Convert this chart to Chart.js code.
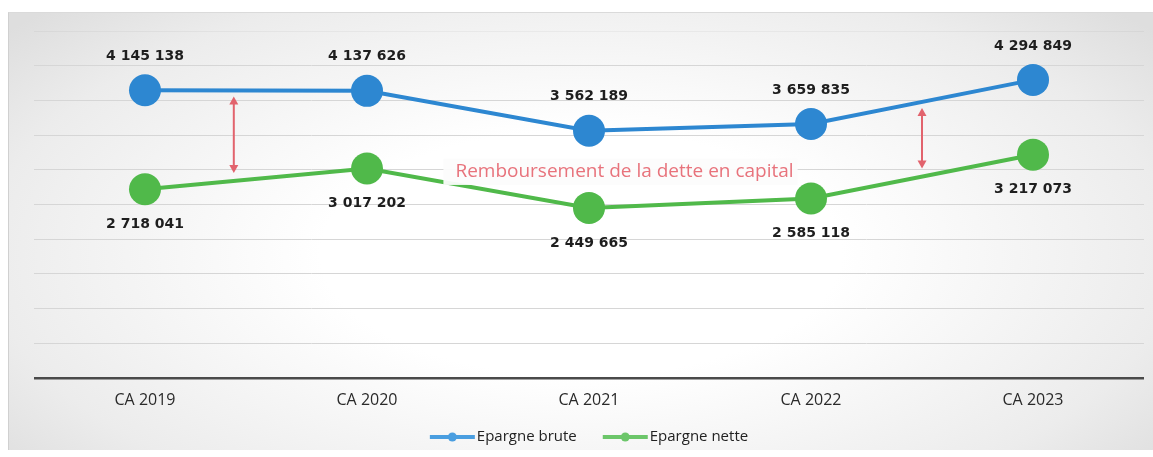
<!DOCTYPE html>
<html lang="fr">
<head>
    <meta charset="UTF-8">
    <title>Epargne brute et nette</title>
    <script src="https://cdn.jsdelivr.net/npm/chart.js"></script>
    <style>
        body {
            margin: 0;
            background: #ffffff;
            font-family: "Open Sans", sans-serif;
        }
        #frame {
            position: absolute;
            left: 8px;
            top: 12px;
            width: 1145px;
            height: 438px;
            background: radial-gradient(ellipse 65% 80% at 50% 55%, #ffffff 35%, #ececec 80%, #dedede 100%);
            border-left: 1px solid #d0d0d0;
            border-top: 1px solid #dadada;
            box-sizing: border-box;
        }
    </style>
</head>
<body>

<div id="frame">
    <canvas id="epargneChart"></canvas>
</div>

<script>
    const categories = ['CA 2019', 'CA 2020', 'CA 2021', 'CA 2022', 'CA 2023'];
    const epargneBrute = [4145138, 4137626, 3562189, 3659835, 4294849];
    const epargneNette = [2718041, 3017202, 2449665, 2585118, 3217073];
    const seriesNames = ['Epargne brute', 'Epargne nette'];
    const seriesColors = ['#2d87d1', '#50b94a'];
    const legendColors = ['#4a9ee0', '#6cc66a'];
    const yMin = 0;
    const yMax = 5000000;
    const yStep = 500000;
    const annotationText = 'Remboursement de la dette en capital';
    // where the red arrows sit, as fractional category index
    const arrowIndexes = [0.4, 3.5];

    const formatNumber = (v) => String(v).replace(/\B(?=(\d{3})+(?!\d))/g, ' ');

    const interp = (arr, idx) => {
        const i = Math.floor(idx);
        const t = idx - i;
        if (i >= arr.length - 1) return arr[arr.length - 1];
        return arr[i] + (arr[i + 1] - arr[i]) * t;
    };

    const drawArrowHead = (ctx, x, y, dir) => {
        ctx.beginPath();
        ctx.moveTo(x, y);
        ctx.lineTo(x - 4.5, y + dir * 8);
        ctx.lineTo(x + 4.5, y + dir * 8);
        ctx.closePath();
        ctx.fill();
    };

    const annotationsPlugin = {
        id: 'annotations',
        beforeDatasetsDraw(chart) {
            const ctx = chart.ctx;
            const x = chart.scales.x;
            const y = chart.scales.y;
            ctx.save();
            ctx.strokeStyle = '#e2636d';
            ctx.fillStyle = '#e2636d';
            ctx.lineWidth = 2;
            arrowIndexes.forEach(idx => {
                const px = x.getPixelForValue(idx);
                const top = y.getPixelForValue(interp(epargneBrute, idx)) + 6;
                const bottom = y.getPixelForValue(interp(epargneNette, idx)) - 8;
                ctx.beginPath();
                ctx.moveTo(px, top + 4);
                ctx.lineTo(px, bottom - 4);
                ctx.stroke();
                drawArrowHead(ctx, px, top, 1);
                drawArrowHead(ctx, px, bottom, -1);
            });
            ctx.restore();
        },
        afterDatasetsDraw(chart) {
            const ctx = chart.ctx;
            const x = chart.scales.x;
            const y = chart.scales.y;
            ctx.save();

            // text box over the green line
            const cx = x.getPixelForValue(2.16);
            const cy = y.getPixelForValue(2968000);
            ctx.font = '19px "Open Sans"';
            const w = ctx.measureText(annotationText).width;
            ctx.fillStyle = 'rgba(252,252,252,0.95)';
            ctx.fillRect(cx - w / 2 - 12, cy - 13, w + 16, 26);
            ctx.fillStyle = '#e8737c';
            ctx.textAlign = 'center';
            ctx.textBaseline = 'middle';
            ctx.fillText(annotationText, cx, cy);

            // data labels
            ctx.font = 'bold 14px "DejaVu Sans"';
            ctx.fillStyle = '#1e1e1e';
            chart.data.datasets.forEach((ds, di) => {
                const meta = chart.getDatasetMeta(di);
                meta.data.forEach((pt, i) => {
                    const off = di === 0 ? -34 : 35;
                    ctx.fillText(formatNumber(ds.data[i]), pt.x, pt.y + off);
                });
            });
            ctx.restore();
        },
        afterDraw(chart) {
            // legend: line marker with a dot, then the series name
            const ctx = chart.ctx;
            ctx.save();
            ctx.font = '15px "Open Sans"';
            ctx.textBaseline = 'middle';
            const markerW = 45, textGap = 2, itemGap = 26;
            const widths = chart.data.datasets.map(ds => markerW + textGap + ctx.measureText(ds.label).width);
            const total = widths.reduce((a, b) => a + b, 0) + itemGap * (widths.length - 1);
            let lx = (chart.chartArea.left + chart.chartArea.right) / 2 - total / 2;
            const ly = chart.height - 13;
            chart.data.datasets.forEach((ds, i) => {
                ctx.strokeStyle = legendColors[i];
                ctx.fillStyle = legendColors[i];
                ctx.lineWidth = 4;
                ctx.beginPath();
                ctx.moveTo(lx, ly);
                ctx.lineTo(lx + markerW, ly);
                ctx.stroke();
                ctx.beginPath();
                ctx.arc(lx + markerW / 2, ly, 4.5, 0, Math.PI * 2);
                ctx.fill();
                ctx.fillStyle = '#222222';
                ctx.fillText(ds.label, lx + markerW + textGap, ly);
                lx += widths[i] + itemGap;
            });
            ctx.restore();
        }
    };

    const ctx = document.getElementById('epargneChart').getContext('2d');

    new Chart(ctx, {
        type: 'line',
        data: {
            labels: categories,
            datasets: [
                {
                    label: seriesNames[0],
                    data: epargneBrute,
                    borderColor: seriesColors[0],
                    backgroundColor: seriesColors[0],
                    pointStyle: 'circle',
                    borderWidth: 4,
                    pointRadius: 16,
                    pointHoverRadius: 16,
                    pointBorderWidth: 0,
                    tension: 0
                },
                {
                    label: seriesNames[1],
                    data: epargneNette,
                    borderColor: seriesColors[1],
                    backgroundColor: seriesColors[1],
                    pointStyle: 'circle',
                    borderWidth: 4,
                    pointRadius: 16,
                    pointHoverRadius: 16,
                    pointBorderWidth: 0,
                    tension: 0
                }
            ]
        },
        options: {
            responsive: true,
            maintainAspectRatio: false,
            animation: false,
            layout: {
                autoPadding: false,
                padding: { left: 25, right: 9, top: 18, bottom: 27 }
            },
            scales: {
                x: {
                    offset: true,
                    grid: { display: false, drawTicks: false },
                    border: { display: false },
                    ticks: {
                        padding: 13,
                        color: '#2a2a2a',
                        font: { family: 'Open Sans', size: 16 }
                    }
                },
                y: {
                    min: yMin,
                    max: yMax,
                    grid: {
                        drawTicks: false,
                        color: (c) => c.tick.value === 0 ? '#4a4a4a' : (c.tick.value === yMax ? 'rgba(0,0,0,0.04)' : '#d6d6d6'),
                        lineWidth: (c) => c.tick.value === 0 ? 2.5 : 1
                    },
                    border: { display: false },
                    ticks: { display: false, stepSize: yStep }
                }
            },
            plugins: {
                legend: { display: false },
                tooltip: { enabled: false }
            }
        },
        plugins: [annotationsPlugin]
    });
</script>

</body>
</html>
